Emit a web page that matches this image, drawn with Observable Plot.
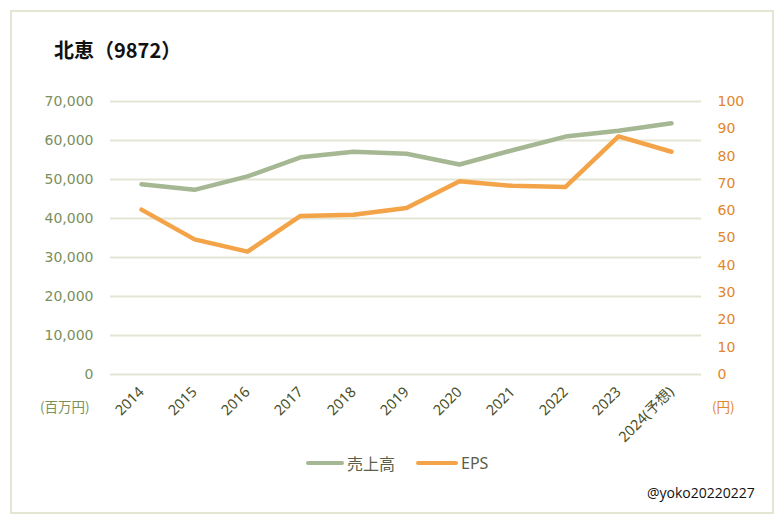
<!DOCTYPE html>
<html><head><meta charset="utf-8">
<script src="https://cdn.jsdelivr.net/npm/d3@7"></script>
<script src="https://cdn.jsdelivr.net/npm/@observablehq/plot@0.6"></script>
<style>
body{margin:0;background:#fff;}
#wrap{position:relative;width:784px;height:518px;overflow:hidden;font-family:"Noto Sans CJK JP","Noto Sans",sans-serif;}
#frame{position:absolute;left:10px;top:10px;width:760px;height:500px;border:2px solid #e4e6d3;}
#title{position:absolute;left:54px;top:40px;font-size:20px;line-height:20px;font-weight:bold;color:#111;white-space:nowrap;}
#chart{position:absolute;left:0;top:0;}
.unit{position:absolute;top:396px;font-size:13.5px;line-height:20px;}
.sw{position:absolute;top:461px;height:4px;border-radius:2px;}
.lt{position:absolute;top:452px;font-size:16px;line-height:22px;color:#5a5e48;white-space:nowrap;}
#caption{position:absolute;left:647px;top:482px;font-size:14px;line-height:22px;color:#111;font-family:"Open Sans",sans-serif;}
</style></head>
<body>
<div id="wrap">
  <div id="frame"></div>
  <div id="chart"></div>
  <div id="title">北恵（9872）</div>
  <div class="unit" style="left:40px;color:#7b8f5c;">(百万円)</div>
  <div class="unit" style="left:712px;color:#e2862a;">(円)</div>
  <span class="sw" style="left:306px;width:38px;background:#a6b793"></span><span class="lt" style="left:347px;">売上高</span>
  <span class="sw" style="left:416px;width:42px;background:#f3a448"></span><span class="lt" style="left:461px;font-family:'Noto Sans',sans-serif;">EPS</span>
  <div id="caption">@yoko20220227</div>
</div>
<script>
const years = ["2014","2015","2016","2017","2018","2019","2020","2021","2022","2023","2024(予想)"];
const sales = [48800, 47350, 50800, 55700, 57100, 56600, 53850, 57500, 61000, 62500, 64400];
const eps = [60.4, 49.5, 45.0, 58.1, 58.5, 61.0, 70.8, 69.1, 68.7, 87.2, 81.6];
const leftTicks = [0,10000,20000,30000,40000,50000,60000,70000];
const rightTicks = [0,10,20,30,40,50,60,70,80,90,100];
const seriesNames = ["売上高","EPS"];
const colors = ["#a6b793","#f3a448"];

const ratio = 70000/100; // right axis 0-100 maps onto left 0-70,000
const salesRows = years.map((y,i)=>({year:y, v:sales[i]}));
const epsRows = years.map((y,i)=>({year:y, v:eps[i]*ratio}));

const plot = Plot.plot({
  width:784, height:518,
  marginLeft:110, marginRight:83, marginTop:101, marginBottom:144,
  style:{fontFamily:'"DejaVu Sans","Noto Sans CJK JP",sans-serif', background:"transparent"},
  x:{type:"point", domain:years, padding:0.5},
  y:{domain:[0,70000]},
  marks:[
    Plot.gridY(leftTicks,{stroke:"#e4e6d3", strokeOpacity:1, strokeWidth:2}),
    Plot.axisY(leftTicks,{anchor:"left", tickSize:0, tickPadding:17, label:null, fontSize:14, fill:"#7b8f5c", tickFormat:d=>d3.format(",")(d)}),
    Plot.axisY(rightTicks.map(d=>d*ratio),{anchor:"right", tickSize:0, tickPadding:16, label:null, fontSize:14, fill:"#e2862a", textAnchor:"start", tickFormat:d=>String(Math.round(d/ratio))}),
    Plot.axisX({anchor:"bottom", tickSize:0, tickPadding:15, tickRotate:-45, label:null, fontSize:14.5, fill:"#4a5029", fontFamily:'"Noto Sans","Noto Sans CJK JP",sans-serif'}),
    Plot.line(salesRows,{x:"year", y:"v", stroke:colors[0], strokeWidth:4.5, strokeLinecap:"round", strokeLinejoin:"round"}),
    Plot.line(epsRows,{x:"year", y:"v", stroke:colors[1], strokeWidth:4.5, strokeLinecap:"round", strokeLinejoin:"round"})
  ]
});
document.getElementById("chart").appendChild(plot);
</script>
</body></html>
